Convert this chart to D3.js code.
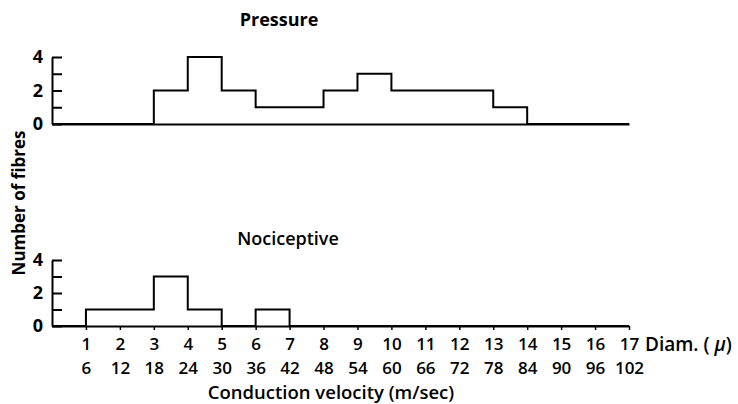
<!DOCTYPE html>
<html>
<head>
<meta charset="utf-8">
<script src="https://cdn.jsdelivr.net/npm/d3@7"></script>
<style>
  body { margin: 0; background: #fff; }
  svg { display: block; font-family: "Open Sans", "Lato", sans-serif; }
  .axis path, .axis line { stroke: #000; stroke-width: 2; }
  .axis text { font-size: 17px; fill: #000; font-family: "Open Sans", sans-serif; font-weight: 600; }
</style>
</head>
<body>
<svg id="chart" width="738" height="404"></svg>
<script>
// Fibre counts per 1 µm diameter bin (bin i covers i..i+1 µm)
const diamBins = d3.range(0, 17);
const pressureCounts = [0, 0, 0, 2, 4, 2, 1, 1, 2, 3, 2, 2, 2, 1, 0, 0, 0];
const nociceptiveCounts = [0, 1, 1, 3, 1, 0, 1, 0, 0, 0, 0, 0, 0, 0, 0, 0, 0];

// Tick labels
const diamTicks = d3.range(1, 18);
const velocityLabels = ["6", "12", "18", "24", "30", "36", "42", "48", "54", "60", "66", "72", "78", "84", "90", "96", "102"];
const yTicks = [0, 1, 2, 3, 4];

const svg = d3.select("#chart");

const x = d3.scaleLinear().domain([0, 17]).range([52, 629]);

const panels = [
  { title: "Pressure", counts: pressureCounts, y0: 124, y4: 57, titleX: 279, titleY: 26, bold: true },
  { title: "Nociceptive", counts: nociceptiveCounts, y0: 326, y4: 260, titleX: 288, titleY: 245, bold: false }
];

panels.forEach((p, idx) => {
  const y = d3.scaleLinear().domain([0, 4]).range([p.y0, p.y4]);

  // y axis, ticks pointing into the plot
  const yAxis = d3.axisLeft(y)
    .tickValues(yTicks)
    .tickSize(-10)
    .tickSizeOuter(0)
    .tickPadding(10)
    .tickFormat(d => (d % 2 ? "" : d));

  const gy = svg.append("g")
    .attr("class", "axis")
    .attr("transform", `translate(${x(0)},0)`)
    .call(yAxis);
  gy.selectAll("text").style("font-size", "18px").style("font-weight", "bold")
    .attr("text-anchor", "middle").attr("dx", "-4");

  // baseline
  const isBottom = idx === panels.length - 1;
  const xAxis = d3.axisBottom(x)
    .tickValues(isBottom ? diamTicks : [])
    .tickSize(isBottom ? 4 : 0)
    .tickSizeOuter(0)
    .tickPadding(8)
    .tickFormat(d3.format("d"));

  svg.append("g")
    .attr("class", "axis")
    .attr("transform", `translate(0,${p.y0})`)
    .call(xAxis)
    .selectAll("line").style("stroke-width", 1.5);

  // histogram outline
  const pts = diamBins.map(i => [i, p.counts[i]]).concat([[17, 0]]);
  const line = d3.line()
    .x(d => x(d[0]))
    .y(d => y(d[1]))
    .curve(d3.curveStepAfter);

  svg.append("path")
    .datum(pts)
    .attr("d", line)
    .attr("fill", "none")
    .attr("stroke", "#000")
    .attr("stroke-width", 2);

  svg.append("text")
    .attr("x", p.titleX)
    .attr("y", p.titleY)
    .attr("text-anchor", "middle")
    .style("font-size", "18px")
    .style("font-weight", p.bold ? "bold" : "600")
    .text(p.title);
});

// velocity labels (second row under the bottom panel)
const vAxis = d3.axisBottom(x)
  .tickValues(diamTicks)
  .tickSize(0)
  .tickPadding(0)
  .tickFormat((d, i) => velocityLabels[i]);

const gv = svg.append("g")
  .attr("class", "axis")
  .attr("transform", "translate(0,361.5)")
  .call(vAxis);
gv.select(".domain").remove();

// axis titles
svg.append("text")
  .attr("x", 645)
  .attr("y", 351)
  .style("font-size", "19px")
  .style("font-weight", "600")
  .html('Diam. ( <tspan font-style="italic">μ</tspan>)');

svg.append("text")
  .attr("x", 331)
  .attr("y", 399)
  .attr("text-anchor", "middle")
  .style("font-size", "18.5px")
  .style("font-weight", "600")
  .text("Conduction velocity (m/sec)");

svg.append("text")
  .attr("transform", "translate(25,203) rotate(-90)")
  .attr("text-anchor", "middle")
  .style("font-size", "17px")
  .style("font-weight", "bold")
  .text("Number of fibres");
</script>
</body>
</html>
